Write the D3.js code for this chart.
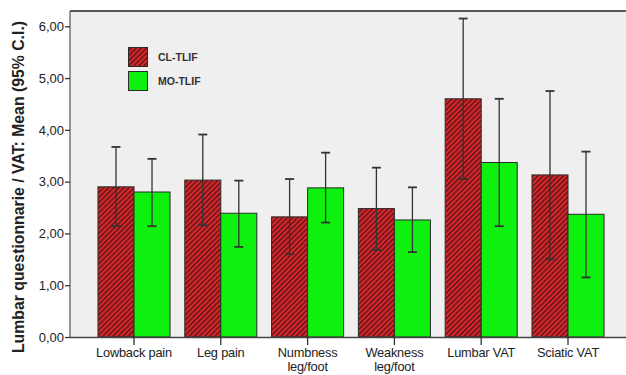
<!DOCTYPE html>
<html>
<head>
<meta charset="utf-8">
<script src="https://cdn.jsdelivr.net/npm/d3@7"></script>
<style>
  html, body { margin: 0; padding: 0; background: #fff; }
  svg { display: block; }
</style>
</head>
<body>
<svg id="chart" width="626" height="375"></svg>
<script>
// Lumbar questionnaire / VAT scores by group: mean with 95% confidence interval
const categories = ["Lowback pain", "Leg pain", "Numbness leg/foot", "Weakness leg/foot", "Lumbar VAT", "Sciatic VAT"];
const categoryLines = [["Lowback pain"], ["Leg pain"], ["Numbness", "leg/foot"], ["Weakness", "leg/foot"], ["Lumbar VAT"], ["Sciatic VAT"]];
const groups = ["CL-TLIF", "MO-TLIF"];

const clMean  = [2.90, 3.03, 2.32, 2.48, 4.60, 3.13];
const clLow   = [2.14, 2.16, 1.60, 1.68, 3.05, 1.50];
const clHigh  = [3.67, 3.91, 3.05, 3.27, 6.15, 4.75];

const moMean  = [2.80, 2.39, 2.88, 2.26, 3.37, 2.37];
const moLow   = [2.14, 1.74, 2.21, 1.64, 2.14, 1.15];
const moHigh  = [3.44, 3.02, 3.56, 2.89, 4.60, 3.58];

const yTicks = [0, 1, 2, 3, 4, 5, 6];

const svg = d3.select("#chart");
const plot = { left: 70, top: 11, right: 626, bottom: 337 };

const defs = svg.append("defs");
const hatch = defs.append("pattern")
  .attr("id", "hatch")
  .attr("patternUnits", "userSpaceOnUse")
  .attr("width", 3.6).attr("height", 3.6)
  .attr("patternTransform", "rotate(45)");
hatch.append("rect").attr("width", 3.6).attr("height", 3.6).attr("fill", "#d8282c");
hatch.append("rect").attr("x", 0).attr("width", 1.4).attr("height", 3.6).attr("fill", "#5c1416");

// plot background
svg.append("rect")
  .attr("x", plot.left).attr("y", plot.top)
  .attr("width", plot.right - plot.left).attr("height", plot.bottom - plot.top)
  .attr("fill", "#efefef");

const y = d3.scaleLinear().domain([0, 6]).range([plot.bottom, 26.3]);
const x = d3.scaleBand().domain(categories).range([90.6, 611.4]).paddingInner(0.17).paddingOuter(0.085);
const xs = d3.scaleBand().domain(groups).range([0, x.bandwidth()]);

const series = [
  { key: "CL-TLIF", mean: clMean, lo: clLow, hi: clHigh, fill: "url(#hatch)" },
  { key: "MO-TLIF", mean: moMean, lo: moLow, hi: moHigh, fill: "#0ef00e" }
];

const rows = [];
series.forEach(s => categories.forEach((c, i) => rows.push({ c, g: s.key, m: s.mean[i], lo: s.lo[i], hi: s.hi[i], fill: s.fill })));

// bars
svg.append("g").selectAll("rect").data(rows).join("rect")
  .attr("x", d => x(d.c) + xs(d.g))
  .attr("y", d => y(d.m))
  .attr("width", xs.bandwidth())
  .attr("height", d => y(0) - y(d.m))
  .attr("fill", d => d.fill)
  .attr("stroke", "#2a2a2a")
  .attr("stroke-width", 1);

// error bars
const eb = svg.append("g").attr("stroke", "#333").attr("stroke-width", 1.3);
rows.forEach(d => {
  const cx = x(d.c) + xs(d.g) + xs.bandwidth() / 2;
  eb.append("line").attr("x1", cx).attr("x2", cx).attr("y1", y(d.lo)).attr("y2", y(d.hi));
  [d.lo, d.hi].forEach(v => eb.append("line")
    .attr("x1", cx - 4.5).attr("x2", cx + 4.5).attr("y1", y(v)).attr("y2", y(v))
    .attr("stroke-width", 1.8));
});

// frame lines
svg.append("line").attr("x1", plot.left).attr("x2", plot.right).attr("y1", plot.top).attr("y2", plot.top)
  .attr("stroke", "#222").attr("stroke-width", 1.5);
svg.append("line").attr("x1", plot.left).attr("x2", plot.left).attr("y1", plot.top).attr("y2", plot.bottom)
  .attr("stroke", "#555").attr("stroke-width", 1.2);

// y axis
const yAxis = svg.append("g").attr("transform", `translate(${plot.left},0)`)
  .call(d3.axisLeft(y).tickValues(yTicks).tickSize(5).tickFormat(d => d3.format(".2f")(d).replace(".", ",")));
yAxis.select(".domain").remove();
yAxis.selectAll("line").attr("stroke", "#333").attr("stroke-width", 1.3);
yAxis.selectAll("text").attr("font-family", "Liberation Sans, Arial, sans-serif")
  .attr("font-size", 13).attr("fill", "#222").attr("x", -6);

// x axis
const xAxis = svg.append("g").attr("transform", `translate(0,${plot.bottom})`)
  .call(d3.axisBottom(x).tickSize(8).tickFormat(""));
xAxis.select(".domain").attr("d", `M${plot.left},0.5H${plot.right}`).attr("stroke", "#444").attr("stroke-width", 1.3);
xAxis.selectAll(".tick line").attr("stroke", "#333").attr("stroke-width", 1.3);

svg.append("g").selectAll("text").data(categories).join("text")
  .attr("x", d => x(d) + x.bandwidth() / 2)
  .attr("y", 356.5)
  .attr("text-anchor", "middle")
  .attr("font-family", "Liberation Sans, Arial, sans-serif")
  .attr("font-size", 12.8)
  .attr("letter-spacing", -0.2)
  .attr("fill", "#222")
  .each(function (d, i) {
    const t = d3.select(this);
    categoryLines[i].forEach((line, k) => t.append("tspan")
      .attr("x", x(d) + x.bandwidth() / 2).attr("dy", k === 0 ? 0 : 14).text(line));
  });

// y axis title
svg.append("text")
  .attr("transform", `translate(23.5,${187}) rotate(-90)`)
  .attr("text-anchor", "middle")
  .attr("font-family", "Liberation Sans, Arial, sans-serif")
  .attr("font-weight", "bold")
  .attr("font-size", 15.8)
  .attr("fill", "#222")
  .text("Lumbar questionnarie / VAT: Mean (95% C.I.)");

// legend
const legend = svg.append("g");
series.forEach((s, i) => {
  legend.append("rect")
    .attr("x", 128.5).attr("y", 47.5 + i * 24)
    .attr("width", 19).attr("height", 19)
    .attr("fill", s.fill).attr("stroke", "#2a2a2a");
  legend.append("text")
    .attr("x", 158).attr("y", 61 + i * 24)
    .attr("font-family", "Liberation Sans, Arial, sans-serif")
    .attr("font-weight", "bold").attr("font-size", 10.5)
    .attr("fill", "#333")
    .text(s.key);
});
</script>
</body>
</html>
